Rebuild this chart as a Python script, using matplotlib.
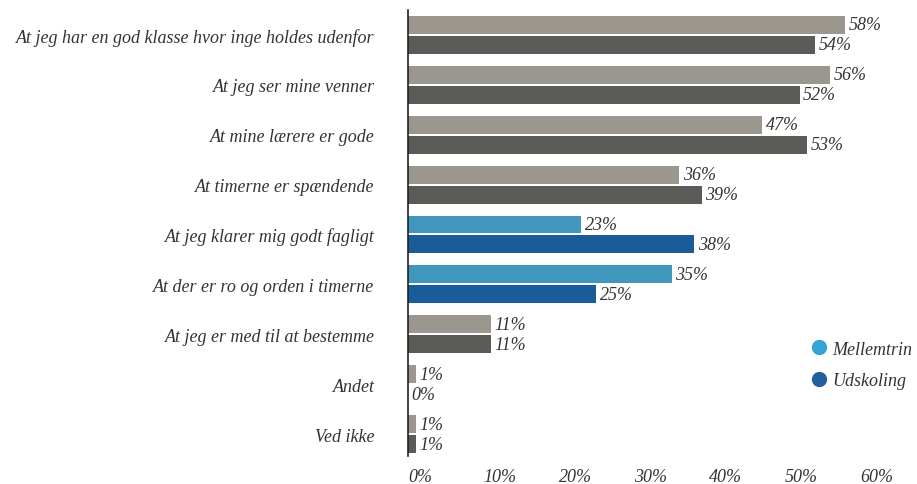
import numpy as np
from matplotlib import pyplot as plt
from matplotlib.lines import Line2D

categories = [
    "At jeg har en god klasse hvor inge holdes udenfor",
    "At jeg ser mine venner",
    "At mine lærere er gode",
    "At timerne er spændende",
    "At jeg klarer mig godt fagligt",
    "At der er ro og orden i timerne",
    "At jeg er med til at bestemme",
    "Andet",
    "Ved ikke",
]
mellemtrin = [58, 56, 47, 36, 23, 35, 11, 1, 1]
udskoling = [54, 52, 53, 39, 38, 25, 11, 0, 1]
highlight = [4, 5]  # rows drawn in blue
x_ticks = [0, 10, 20, 30, 40, 50, 60]

gray_light, gray_dark = "#9b978e", "#5b5b57"
blue_light, blue_dark = "#4196be", "#1a5c9a"
text_color = "#333333"

plt.rcParams["font.family"] = ["Liberation Serif", "DejaVu Serif"]
plt.rcParams["font.style"] = "italic"
fs = 13

fig = plt.figure(figsize=(9.17, 4.85), dpi=100)
ax = fig.add_axes([408 / 917, 1 - 457 / 485, (860 - 408) / 917, 446 / 485])

y = np.arange(len(categories))
h = 0.36
off = 0.2
for i in y:
    c1, c2 = (blue_light, blue_dark) if i in highlight else (gray_light, gray_dark)
    ax.barh(i - off, mellemtrin[i], height=h, color=c1)
    ax.barh(i + off, udskoling[i], height=h, color=c2)
    ax.annotate(f"{mellemtrin[i]}%", (mellemtrin[i], i - off), xytext=(2.5, 0),
                textcoords="offset points", va="center", ha="left",
                fontsize=fs, color=text_color)
    ax.annotate(f"{udskoling[i]}%", (udskoling[i], i + off), xytext=(2.5, 0),
                textcoords="offset points", va="center", ha="left",
                fontsize=fs, color=text_color)

ax.set_xlim(0, 60)
ax.set_ylim(8.44, -0.50)
ax.set_yticks(y)
ax.set_yticklabels(categories, fontsize=fs, color=text_color)
ax.set_xticks(x_ticks)
ax.set_xticklabels([f"{t}%" for t in x_ticks], fontsize=fs, color=text_color, ha="left")
ax.tick_params(axis="both", length=0)
ax.tick_params(axis="y", pad=24)
ax.tick_params(axis="x", pad=9)
for s in ["top", "right", "bottom"]:
    ax.spines[s].set_visible(False)
ax.spines["left"].set_color("#222222")
ax.spines["left"].set_linewidth(1.2)

handles = [
    Line2D([], [], marker="o", linestyle="", markersize=10, color="#35a3d6"),
    Line2D([], [], marker="o", linestyle="", markersize=10, color="#245f9e"),
]
fig.legend(handles, ["Mellemtrin", "Udskoling"], loc="center left",
           bbox_to_anchor=(796 / 917, 1 - 366 / 485), frameon=False,
           fontsize=fs, labelcolor=text_color, handletextpad=0.1,
           labelspacing=0.8, handlelength=1.2, borderpad=0.2)

fig.savefig("out.png", dpi=100)
